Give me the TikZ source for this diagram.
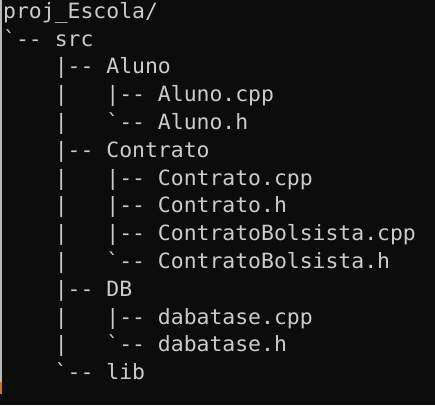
\documentclass[tikz,border=0pt]{standalone}
\usepackage{fontspec}
\newfontfamily\termfont[Ligatures=TeXOff,FakeStretch=1.02]{DejaVu Sans Mono}
\definecolor{termbg}{HTML}{0C0C0C}
\definecolor{termfg}{HTML}{CCCCCC}
\definecolor{termedge}{HTML}{B8B8B8}
\definecolor{termmark}{HTML}{C8782E}

\begin{document}
\begin{tikzpicture}[x=1pt, y=-1pt,
    line/.style={anchor=base west, inner sep=0pt, text=termfg, font=\termfont\fontsize{21}{21}\selectfont},
]
    \fill[termbg] (0,0) rectangle (435,405);
    \useasboundingbox (0,0) rectangle (435,405);
    \fill[termedge] (0,0) rectangle (1.6,382);
    \fill[termmark] (0,382) rectangle (1.6,394);

    % one node per line of the listing (column width 12.9, line height 27.8)
    \node[line] (l1)  at (3,    18.3)  {proj\_Escola/};
    \node[line] (l2)  at (3,    46.1)  {`-- src};
    \node[line] (l3)  at (54.6, 73.9)  {|-- Aluno};
    \node[line] (l4)  at (54.6, 101.7) {|\ \ \ |-- Aluno.cpp};
    \node[line] (l5)  at (54.6, 129.5) {|\ \ \ `-- Aluno.h};
    \node[line] (l6)  at (54.6, 157.3) {|-- Contrato};
    \node[line] (l7)  at (54.6, 185.1) {|\ \ \ |-- Contrato.cpp};
    \node[line] (l8)  at (54.6, 212.9) {|\ \ \ |-- Contrato.h};
    \node[line] (l9)  at (54.6, 240.7) {|\ \ \ |-- ContratoBolsista.cpp};
    \node[line] (l10) at (54.6, 268.5) {|\ \ \ `-- ContratoBolsista.h};
    \node[line] (l11) at (54.6, 296.3) {|-- DB};
    \node[line] (l12) at (54.6, 324.1) {|\ \ \ |-- dabatase.cpp};
    \node[line] (l13) at (54.6, 351.9) {|\ \ \ `-- dabatase.h};
    \node[line] (l14) at (54.6, 379.7) {`-- lib};
\end{tikzpicture}
\end{document}
